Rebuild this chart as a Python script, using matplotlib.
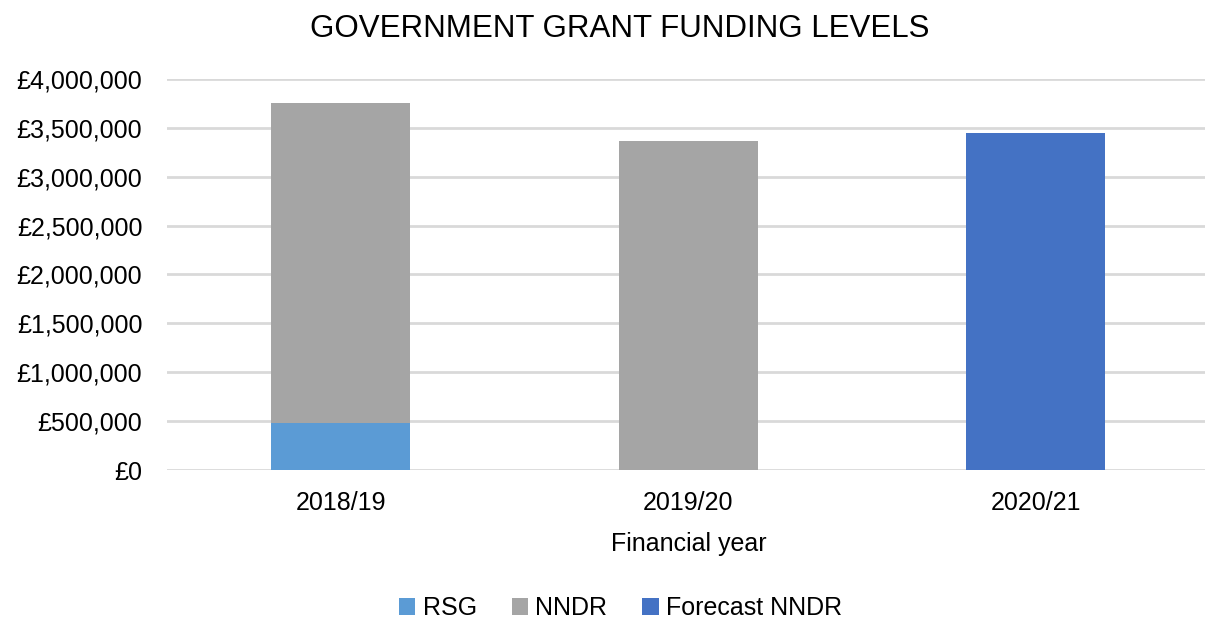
import matplotlib

matplotlib.use("Agg")
import matplotlib.pyplot as plt
from matplotlib.ticker import FuncFormatter

plt.rcParams["font.family"] = ["Liberation Sans", "DejaVu Sans"]

years = ["2018/19", "2019/20", "2020/21"]
rsg = [485000, 0, 0]
nndr = [3270000, 3364000, 0]
forecast_nndr = [0, 0, 3446000]
y_ticks = [0, 500000, 1000000, 1500000, 2000000, 2500000, 3000000, 3500000, 4000000]

fig = plt.figure(figsize=(12.05, 6.21), dpi=100)
ax = fig.add_axes([0.1388, 0.243, 0.865, 0.630])

x = list(range(len(years)))
w = 0.40
ax.bar(x, rsg, width=w, color="#5B9BD5", label="RSG", zorder=3)
ax.bar(x, nndr, width=w, bottom=rsg, color="#A5A5A5", label="NNDR", zorder=3)
ax.bar(x, forecast_nndr, width=w, color="#4472C4", label="Forecast NNDR", zorder=3)

ax.set_xlim(-0.5, len(years) - 0.5)
ax.set_ylim(0, 4000000)
ax.set_yticks(y_ticks)
ax.yaxis.set_major_formatter(FuncFormatter(lambda v, p: f"£{int(v):,}"))
ax.set_xticks(x)
ax.set_xticklabels(years)
ax.grid(axis="y", color="#d9d9d9", linewidth=2, zorder=0)
for s in ax.spines.values():
    s.set_visible(False)
ax.tick_params(axis="both", length=0, labelsize=18, colors="#000000")
ax.tick_params(axis="y", pad=18)
ax.tick_params(axis="x", pad=15)

ax.set_xlabel("Financial year", fontsize=18, labelpad=12)
fig.suptitle("GOVERNMENT GRANT FUNDING LEVELS", fontsize=22.5, x=0.5145, y=0.978)

fig.legend(loc="lower center", bbox_to_anchor=(0.515, -0.035), ncol=3, frameon=False,
           fontsize=18, handlelength=0.65, handleheight=0.65, handletextpad=0.3,
           columnspacing=1.4)

fig.savefig("out.png", dpi=100)
